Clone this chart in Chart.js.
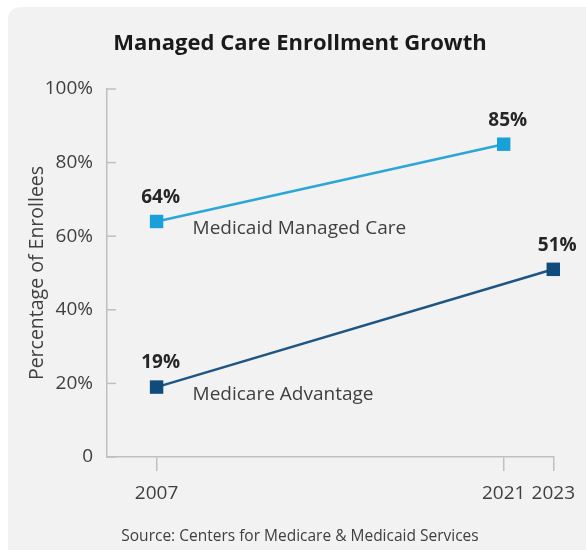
<!DOCTYPE html>
<html>
<head>
<meta charset="utf-8">
<script src="https://cdn.jsdelivr.net/npm/chart.js@4"></script>
<style>
  html, body { margin: 0; padding: 0; background: #fff; }
  #wrap { position: relative; width: 586px; height: 550px; overflow: hidden; }
  #panel { position: absolute; left: 8px; top: 7px; width: 600px; height: 560px; background: #f2f2f2; border-radius: 12px; }
  #chart { position: absolute; left: 0; top: 0; }
</style>
</head>
<body>
<div id="wrap">
  <div id="panel"></div>
  <canvas id="chart" width="586" height="550"></canvas>
</div>
<script>
  // chart data
  const xTickYears = [2007, 2021, 2023];
  const yTickValues = [0, 20, 40, 60, 80, 100];
  const seriesNames = ['Medicaid Managed Care', 'Medicare Advantage'];
  const medicaidYears = [2007, 2021];
  const medicaidValues = [64, 85];
  const medicareYears = [2007, 2023];
  const medicareValues = [19, 51];

  const axisColor = '#bfbfbf';
  const textColor = '#404040';

  Chart.defaults.font.family = '"Open Sans", sans-serif';

  // percentage labels above points, series name beside the first point
  const pointLabels = {
    id: 'pointLabels',
    afterDatasetsDraw(chart) {
      const ctx = chart.ctx;
      chart.data.datasets.forEach((ds, i) => {
        const meta = chart.getDatasetMeta(i);
        ctx.save();
        ctx.fillStyle = '#262626';
        ctx.font = 'bold 19px "Open Sans"';
        ctx.textAlign = 'center';
        ctx.textBaseline = 'middle';
        meta.data.forEach((pt, j) => {
          ctx.fillText(ds.data[j].y + '%', pt.x + 4, pt.y - 24);
        });
        const first = meta.data[0];
        ctx.font = '19px "Open Sans"';
        ctx.fillStyle = textColor;
        ctx.textAlign = 'left';
        ctx.textBaseline = 'alphabetic';
        ctx.fillText(ds.label, first.x + 36, first.y + 13);
        ctx.restore();
      });
    }
  };

  // short tick marks on the inside of the y axis
  const innerTicks = {
    id: 'innerTicks',
    afterDraw(chart) {
      const y = chart.scales.y;
      const ctx = chart.ctx;
      ctx.save();
      ctx.strokeStyle = axisColor;
      ctx.lineWidth = 1.5;
      y.ticks.forEach(t => {
        const py = y.getPixelForValue(t.value);
        ctx.beginPath();
        ctx.moveTo(y.right, py);
        ctx.lineTo(y.right + 9, py);
        ctx.stroke();
      });
      ctx.restore();
    }
  };

  function toPoints(years, values) {
    return years.map((yr, i) => ({ x: yr, y: values[i] }));
  }

  new Chart(document.getElementById('chart'), {
    type: 'line',
    data: {
      datasets: [{
        label: seriesNames[0],
        data: toPoints(medicaidYears, medicaidValues),
        borderColor: '#2ba6d6',
        borderWidth: 2.5,
        pointStyle: 'rect',
        pointRadius: 9.5,
        pointBorderWidth: 0,
        pointBackgroundColor: '#1aa0d8',
        clip: false
      }, {
        label: seriesNames[1],
        data: toPoints(medicareYears, medicareValues),
        borderColor: '#1f5583',
        borderWidth: 2.5,
        pointStyle: 'rect',
        pointRadius: 9.5,
        pointBorderWidth: 0,
        pointBackgroundColor: '#0f4b7b',
        clip: false
      }]
    },
    options: {
      responsive: false,
      animation: false,
      layout: { padding: { left: 42, right: 28, top: 0, bottom: 0 } },
      plugins: {
        legend: { display: false },
        tooltip: { enabled: false },
        title: {
          display: true,
          text: 'Managed Care Enrollment Growth',
          color: '#1a1a1a',
          font: { size: 22, weight: 'bold' },
          padding: { top: 30.8, bottom: 31.8 }
        },
        subtitle: {
          display: true,
          position: 'bottom',
          text: 'Source: Centers for Medicare & Medicaid Services',
          color: textColor,
          font: { size: 15.5 },
          padding: { top: 0, bottom: 3.7 }
        }
      },
      scales: {
        x: {
          type: 'linear',
          min: 2005,
          max: 2023,
          afterBuildTicks: s => { s.ticks = xTickYears.map(v => ({ value: v })); },
          afterFit: s => { s.height = 70.7; },
          ticks: {
            callback: v => String(v),
            color: textColor,
            font: { size: 19 },
            padding: 11,
            maxRotation: 0,
            autoSkip: false
          },
          grid: { drawOnChartArea: false, drawTicks: true, tickLength: 14, color: axisColor, lineWidth: 1.5 },
          border: { color: axisColor, width: 1.5 }
        },
        y: {
          min: 0,
          max: 100,
          afterBuildTicks: s => { s.ticks = yTickValues.map(v => ({ value: v })); },
          afterFit: s => { s.width = 65; },
          ticks: {
            callback: v => v === 0 ? '0' : v + '%',
            color: textColor,
            font: { size: 19 },
            padding: 6
          },
          grid: { display: false },
          border: { display: true, color: axisColor, width: 1.5 },
          title: {
            display: true,
            text: 'Percentage of Enrollees',
            color: textColor,
            font: { size: 19.5 },
            padding: { top: -16.7, bottom: 0 }
          }
        }
      }
    },
    plugins: [pointLabels, innerTicks]
  });
</script>
</body>
</html>
